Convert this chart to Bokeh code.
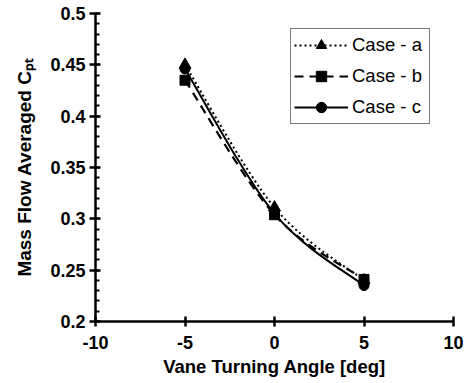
import math
from bokeh.plotting import figure
from bokeh.models import (Range1d, FixedTicker, CustomJSTickFormatter, Legend, LegendItem)
from bokeh.embed import file_html
from bokeh.resources import INLINE

# ---- data ----
angles = [-5, 0, 5]
case_a = [0.450, 0.311, 0.240]
case_b = [0.435, 0.304, 0.241]
case_c = [0.446, 0.305, 0.235]
series_labels = ["Case - a", "Case - b", "Case - c"]

x_ticks = [-10, -5, 0, 5, 10]
x_tick_labels = ["-10", "-5", "0", "5", "10"]
y_ticks = [0.2, 0.25, 0.3, 0.35, 0.4, 0.45, 0.5]
y_tick_labels = ["0.2", "0.25", "0.3", "0.35", "0.4", "0.45", "0.5"]
y_minor = [round(0.2 + 0.01 * i, 2) for i in range(31)]

x_title = "Vane Turning Angle [deg]"
y_title = "Mass Flow Averaged C\u209a\u209c"

FONT = "Liberation Sans"


def smooth_segments(xs, ys):
    """Bezier control points for an Excel-like smoothed line through the data."""
    n = len(xs)
    out = dict(x0=[], y0=[], x1=[], y1=[], cx0=[], cy0=[], cx1=[], cy1=[])
    for i in range(n - 1):
        p0 = (xs[max(i - 1, 0)], ys[max(i - 1, 0)])
        p1 = (xs[i], ys[i])
        p2 = (xs[i + 1], ys[i + 1])
        p3 = (xs[min(i + 2, n - 1)], ys[min(i + 2, n - 1)])
        out["x0"].append(p1[0]); out["y0"].append(p1[1])
        out["x1"].append(p2[0]); out["y1"].append(p2[1])
        out["cx0"].append(p1[0] + (p2[0] - p0[0]) / 6)
        out["cy0"].append(p1[1] + (p2[1] - p0[1]) / 6)
        out["cx1"].append(p2[0] - (p3[0] - p1[0]) / 6)
        out["cy1"].append(p2[1] - (p3[1] - p1[1]) / 6)
    return out


p = figure(frame_width=358, frame_height=308,
           min_border_left=95, min_border_right=13, min_border_top=13, min_border_bottom=62,
           x_range=Range1d(-10, 10), y_range=Range1d(0.2, 0.5),
           output_backend="svg", toolbar_location=None)
p.outline_line_color = None
p.grid.visible = False
p.background_fill_color = "white"
p.border_fill_color = "white"

styles = [
    dict(dash="2 3", width=2.0, marker="triangle", size=12),
    dict(dash="9 6", width=2.2, marker="square", size=10),
    dict(dash="solid", width=2.0, marker="circle", size=10),
]

items = []
for vals, lab, st in zip([case_a, case_b, case_c], series_labels, styles):
    seg = smooth_segments(angles, vals)
    r_line = p.bezier(x0=seg["x0"], y0=seg["y0"], x1=seg["x1"], y1=seg["y1"],
                      cx0=seg["cx0"], cy0=seg["cy0"], cx1=seg["cx1"], cy1=seg["cy1"],
                      line_color="black", line_width=st["width"], line_dash=st["dash"])
    r_pts = p.scatter(angles, vals, marker=st["marker"], size=st["size"],
                      fill_color="black", line_color="black")
    items.append(LegendItem(label=lab, renderers=[r_line, r_pts]))

legend = Legend(items=items, location=(195, 197))
legend.label_text_font = FONT
legend.label_text_font_size = "18.5px"
legend.label_text_color = "black"
legend.border_line_color = "black"
legend.border_line_width = 1.5
legend.background_fill_color = "white"
legend.background_fill_alpha = 1.0
legend.padding = 3
legend.spacing = 5
legend.margin = 0
legend.glyph_width = 54
legend.glyph_height = 26
legend.label_height = 26
legend.label_width = 74
legend.label_standoff = 4
p.add_layout(legend, "center")

fmt_code = """
    let k = 0, best = 1e9;
    for (let i = 0; i < t.length; i++) { const d = Math.abs(t[i] - tick); if (d < best) { best = d; k = i; } }
    return l[k];"""

# x axis
xa = p.xaxis[0]
xa.ticker = FixedTicker(ticks=x_ticks)
xa.formatter = CustomJSTickFormatter(args=dict(t=x_ticks, l=x_tick_labels), code=fmt_code)
xa.axis_label = x_title
xa.axis_label_text_font = FONT
xa.axis_label_text_font_style = "bold"
xa.axis_label_text_font_size = "18.5px"
xa.axis_label_text_color = "black"
xa.axis_label_standoff = 4
xa.major_label_text_font = FONT
xa.major_label_text_font_style = "bold"
xa.major_label_text_font_size = "18px"
xa.major_label_text_color = "black"
xa.major_label_standoff = 9
xa.axis_line_color = "black"
xa.axis_line_width = 2.5
xa.major_tick_line_color = "black"
xa.major_tick_line_width = 2.5
xa.major_tick_in = 5
xa.major_tick_out = 5
xa.minor_tick_line_color = None

# y axis
ya = p.yaxis[0]
ya.ticker = FixedTicker(ticks=y_ticks, minor_ticks=y_minor)
ya.formatter = CustomJSTickFormatter(args=dict(t=y_ticks, l=y_tick_labels), code=fmt_code)
ya.axis_label = y_title
ya.axis_label_text_font = FONT
ya.axis_label_text_font_style = "bold"
ya.axis_label_text_font_size = "19px"
ya.axis_label_text_color = "black"
ya.axis_label_standoff = 12
ya.major_label_text_font = FONT
ya.major_label_text_font_style = "bold"
ya.major_label_text_font_size = "18px"
ya.major_label_text_color = "black"
ya.major_label_standoff = 4
ya.axis_line_color = "black"
ya.axis_line_width = 2.5
ya.major_tick_line_color = "black"
ya.major_tick_line_width = 2.5
ya.major_tick_in = 5
ya.major_tick_out = 6
ya.minor_tick_line_color = "black"
ya.minor_tick_line_width = 2
ya.minor_tick_in = 4
ya.minor_tick_out = 0

open("out.html", "w").write(file_html(p, INLINE))
